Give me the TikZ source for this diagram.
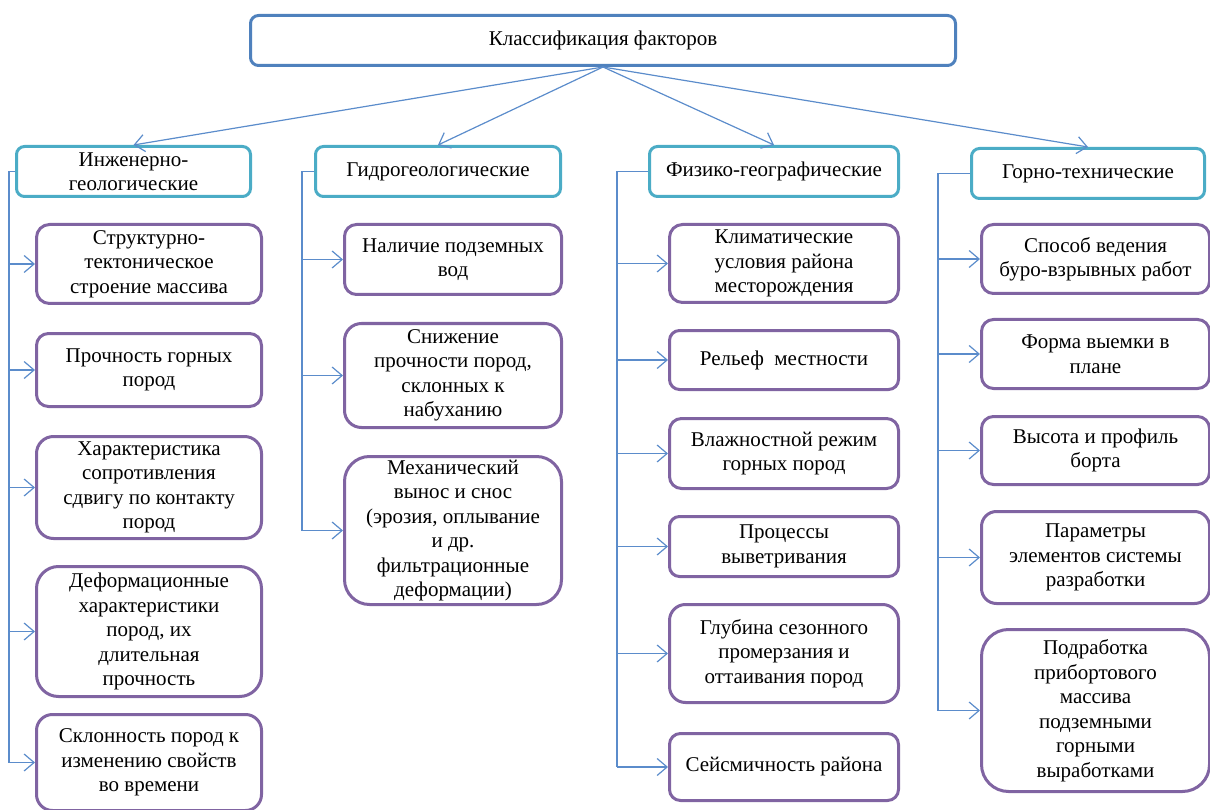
\documentclass[tikz,border=0pt]{standalone}
\usepackage{fontspec}
\setmainfont{Liberation Serif}
\usetikzlibrary{arrows.meta}
\definecolor{topc}{HTML}{4F81BD}
\definecolor{midc}{HTML}{4BACC6}
\definecolor{lowc}{HTML}{8064A2}
\definecolor{linec}{HTML}{5B8CCB}
\begin{document}
\begin{tikzpicture}[x=1pt,y=-1pt,
  box/.style={draw,line width=3pt,fill=white,align=center,anchor=north west,inner xsep=2pt,inner ysep=1pt,
    font=\fontsize{21}{24.5}\selectfont},
  topbox/.style={box,draw=topc,rounded corners=8pt},
  midbox/.style={box,draw=midc,rounded corners=8pt},
  lowbox/.style={box,draw=lowc},
  conn/.style={draw=linec,line width=1.2pt},
  arr/.style={conn,-{Straight Barb[length=10pt,width=17pt,line width=1.2pt]}}]
\useasboundingbox (0,0) rectangle (1210,810);
% top
\node[topbox,minimum width=705pt,minimum height=50pt] (T) at (249,14) {Классификация факторов};
% level 2
\node[midbox,minimum width=234pt,minimum height=50pt] (g1) at (15,145) {Инженерно-\\геологические};
\node[midbox,minimum width=245pt,minimum height=50pt] (g2) at (314,145) {Гидрогеологические};
\node[midbox,minimum width=249pt,minimum height=50pt] (g3) at (648,145) {Физико-географические};
\node[midbox,minimum width=233pt,minimum height=50pt] (g4) at (970,147) {Горно-технические};
% column 1
\node[lowbox,rounded corners=13pt,minimum width=225pt,minimum height=79pt] (a1) at (35,223) {Структурно-\\тектоническое\\строение массива};
\node[lowbox,rounded corners=12pt,minimum width=225pt,minimum height=73pt] (a2) at (35,332) {Прочность горных\\пород};
\node[lowbox,rounded corners=17pt,minimum width=225pt,minimum height=102pt] (a3) at (35,435) {Характеристика\\сопротивления\\сдвигу по контакту\\пород};
\node[lowbox,rounded corners=22pt,minimum width=225pt,minimum height=130pt] (a4) at (35,565) {Деформационные\\характеристики\\пород, их\\длительная\\прочность};
\node[lowbox,rounded corners=16pt,minimum width=225pt,minimum height=96pt] (a5) at (35,713) {Склонность пород к\\изменению свойств\\во времени};
% column 2
\node[lowbox,rounded corners=12pt,minimum width=217pt,minimum height=70pt] (b1) at (343,223) {Наличие подземных\\вод};
\node[lowbox,rounded corners=17pt,minimum width=217pt,minimum height=104pt] (b2) at (343,322) {Снижение\\прочности пород,\\склонных к\\набуханию};
\node[lowbox,rounded corners=25pt,minimum width=217pt,minimum height=148pt,inner ysep=0pt] (b3) at (343,455) {Механический\\вынос и снос\\(эрозия, оплывание\\и др.\\фильтрационные\\деформации)};
% column 3
\node[lowbox,rounded corners=13pt,minimum width=229pt,minimum height=78pt] (c1) at (668,223) {Климатические\\условия района\\месторождения};
\node[lowbox,rounded corners=10pt,minimum width=229pt,minimum height=59pt] (c2) at (668,329) {Рельеф\ \ местности};
\node[lowbox,rounded corners=12pt,minimum width=229pt,minimum height=70pt] (c3) at (668,417) {Влажностной режим\\горных пород};
\node[lowbox,rounded corners=10pt,minimum width=229pt,minimum height=60pt] (c4) at (668,515) {Процессы\\выветривания};
\node[lowbox,rounded corners=16pt,minimum width=229pt,minimum height=98pt] (c5) at (668,603) {Глубина сезонного\\промерзания и\\оттаивания пород};
\node[lowbox,rounded corners=11pt,minimum width=229pt,minimum height=67pt] (c6) at (668,732) {Сейсмичность района};
% column 4
\node[lowbox,rounded corners=12pt,minimum width=228pt,minimum height=69pt] (d1) at (980,223) {Способ ведения\\буро-взрывных работ};
\node[lowbox,rounded corners=12pt,minimum width=228pt,minimum height=69pt] (d2) at (980,318) {Форма выемки в\\плане};
\node[lowbox,rounded corners=12pt,minimum width=228pt,minimum height=68pt] (d3) at (980,415) {Высота и профиль\\борта};
\node[lowbox,rounded corners=15pt,minimum width=228pt,minimum height=92pt] (d4) at (980,510) {Параметры\\элементов системы\\разработки};
\node[lowbox,rounded corners=27pt,minimum width=228pt,minimum height=162pt] (d5) at (980,628) {Подработка\\прибортового\\массива\\подземными\\горными\\выработками};
% top arrows
\foreach \g in {g1,g2,g3,g4} \draw[arr] (T.south) -- (\g.north);
% spine coordinates
\coordinate (s1) at (9,0);
\coordinate (s2) at (302,0);
\coordinate (s3) at (617,0);
\coordinate (s4) at (938,0);
\draw[conn] (g1.west) -- (s1 |- g1.west) -- (s1 |- a5.west);
\draw[conn] (g2.west) -- (s2 |- g2.west) -- (s2 |- b3.west);
\draw[conn] (g3.west) -- (s3 |- g3.west) -- (s3 |- c6.west);
\draw[conn] (g4.west) -- (s4 |- g4.west) -- (s4 |- d5.west);
\foreach \n in {a1,a2,a3,a4,a5} \draw[arr] (s1 |- \n.west) -- (\n.west);
\foreach \n in {b1,b2,b3} \draw[arr] (s2 |- \n.west) -- (\n.west);
\foreach \n in {c1,c2,c3,c4,c5,c6} \draw[arr] (s3 |- \n.west) -- (\n.west);
\foreach \n in {d1,d2,d3,d4,d5} \draw[arr] (s4 |- \n.west) -- (\n.west);
\end{tikzpicture}
\end{document}
